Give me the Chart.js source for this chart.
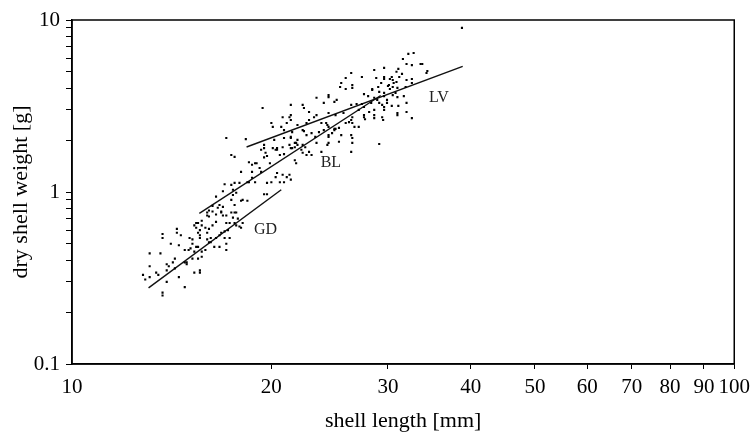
<!DOCTYPE html>
<html>
<head>
<meta charset="utf-8">
<script src="https://cdn.jsdelivr.net/npm/chart.js@4.4.1/dist/chart.umd.min.js"></script>
<style>
  html, body { margin: 0; padding: 0; background: #fff; }
  #wrap { width: 756px; height: 432px; }
</style>
</head>
<body>
<div id="wrap"><canvas id="shellChart" width="756" height="432"></canvas></div>
<script>
// shell length [mm] and dry shell weight [g], one entry per mussel
const shellLength = [
  12.8, 12.9, 13.1, 13.6, 13.7, 13.7, 13.1, 13.4, 13.5, 13.1,
  13.7, 13.7, 14.8, 13.9, 13.9, 14.3, 14.4, 14.4, 14.6, 14.1,
  14.5, 14.0, 14.3, 14.5, 14.8, 14.9, 14.9, 15.3, 15.6, 15.6,
  15.5, 15.7, 15.05, 13.9, 15.3, 15.4, 15.2, 15.5, 15.6, 15.5,
  15.7, 15.0, 15.2, 15.4, 15.3, 15.1, 15.2, 15.6, 14.8, 14.2,
  15.9, 15.7, 16.0, 16.0, 16.1, 16.3, 16.5, 16.8, 15.9, 16.1,
  16.3, 16.2, 16.5, 16.8, 17.0, 17.2, 17.3, 17.5, 17.6, 17.1,
  17.3, 17.7, 17.9, 18.0, 16.1, 16.4, 16.7, 15.7, 16.1, 16.3,
  16.6, 16.9, 16.8, 16.9, 17.1, 17.4, 17.6, 17.7, 17.8, 15.5,
  15.6, 16.5, 17.1, 17.6, 18.1, 16.0, 16.0, 16.2, 16.5, 16.7,
  17.0, 15.4, 17.1, 16.5, 17.0, 17.6, 18.5, 17.5, 17.7, 18.1,
  18.4, 19.5, 19.7, 16.7, 16.9, 17.4, 18.0, 17.4, 17.9, 18.7,
  18.9, 18.4, 17.5, 17.1, 18.3, 17.4, 17.6, 18.5, 18.9, 18.7,
  19.0, 19.2, 19.9, 18.0, 18.7, 19.3, 19.3, 19.5, 19.5, 19.7,
  20.1, 20.4, 20.8, 20.6, 20.9, 20.2, 20.9, 21.4, 21.8, 21.4,
  21.7, 21.9, 22.3, 22.2, 22.3, 22.6, 23.0, 21.7, 21.8, 20.3,
  20.4, 20.8, 21.1, 21.3, 21.4, 20.9, 20.6, 20.0, 19.7, 19.5,
  19.6, 20.3, 20.4, 20.1, 19.4, 20.0, 20.7, 20.9, 21.5, 22.3,
  21.4, 21.3, 21.7, 21.9, 21.5, 22.5, 22.8, 23.4, 24.3, 23.8,
  26.4, 22.4, 22.6, 23.0, 23.3, 23.6, 24.0, 24.4, 26.4, 25.3,
  24.4, 21.1, 21.3, 21.4, 21.9, 22.8, 22.6, 23.8, 24.2, 24.4,
  25.3, 25.9, 26.5, 23.2, 24.4, 25.0, 25.7, 21.4, 21.4, 22.3,
  22.4, 22.8, 23.4, 24.0, 24.4, 24.4, 24.9, 26.4, 26.9, 25.5,
  26.5, 26.5, 25.9, 25.4, 26.4, 25.9, 27.4, 20.8, 23.4, 24.3,
  24.9, 27.1, 27.6, 25.1, 27.4, 27.6, 28.6, 29.1, 28.9, 29.4,
  29.9, 30.4, 28.1, 28.6, 28.6, 28.6, 29.4, 29.6, 29.6, 29.9,
  31.0, 32.0, 32.6, 27.6, 27.7, 26.5, 26.4, 26.2, 27.1, 26.7,
  24.9, 25.0, 24.7, 25.5, 26.5, 24.4, 26.5, 29.1, 27.6, 28.4,
  29.3, 29.6, 30.0, 30.2, 30.8, 32.0, 29.1, 28.6, 29.6, 29.6,
  29.6, 30.2, 28.8, 30.6, 30.9, 32.0, 32.6, 31.5, 31.2, 32.2,
  32.0, 32.6, 32.8, 31.6, 33.6, 33.8, 34.4, 34.3, 30.4, 30.5,
  31.1, 30.1, 30.5, 31.0, 28.4, 31.0, 31.1, 31.0, 29.5, 38.8,
  32.6, 31.9, 31.7, 30.9, 30.5, 28.3, 28.0, 29.0, 29.6
];
const dryWeight = [
  0.33, 0.31, 0.44, 0.44, 0.57, 0.54, 0.37, 0.34, 0.33, 0.32,
  0.26, 0.25, 0.28, 0.30, 0.35, 0.41, 0.61, 0.58, 0.56, 0.50,
  0.49, 0.37, 0.36, 0.32, 0.39, 0.39, 0.38, 0.34, 0.35, 0.34,
  0.41, 0.42, 0.54, 0.38, 0.64, 0.66, 0.50, 0.58, 0.56, 0.48,
  0.45, 0.46, 0.41, 0.62, 0.45, 0.47, 0.53, 0.54, 0.46, 0.39,
  0.46, 0.64, 0.73, 0.76, 0.72, 0.77, 0.74, 0.77, 0.62, 0.61,
  0.64, 0.54, 0.54, 0.58, 0.59, 0.60, 0.66, 0.71, 0.76, 0.50,
  0.54, 0.64, 0.63, 0.62, 0.51, 0.48, 0.48, 0.68, 0.78, 0.83,
  0.81, 0.82, 0.76, 0.73, 0.73, 0.76, 0.84, 0.76, 0.70, 0.66,
  0.60, 0.67, 0.66, 0.66, 0.66, 0.58, 0.53, 0.51, 0.54, 0.56,
  0.54, 0.48, 0.46, 0.94, 1.11, 1.13, 1.14, 0.96, 0.99, 0.90,
  0.89, 0.97, 0.97, 0.84, 1.01, 0.90, 0.89, 1.10, 1.13, 1.21,
  1.14, 1.14, 1.03, 2.06, 2.03, 1.64, 1.60, 1.49, 1.47, 1.44,
  1.47, 1.38, 1.47, 1.31, 1.31, 1.31, 1.76, 1.88, 1.59, 1.62,
  1.80, 1.76, 1.82, 1.64, 1.66, 2.01, 2.06, 2.09, 1.93, 1.80,
  1.82, 1.88, 1.88, 1.76, 1.69, 1.64, 1.64, 1.53, 1.47, 1.22,
  1.29, 1.26, 1.22, 1.26, 1.18, 1.14, 1.14, 1.14, 1.13, 1.80,
  1.69, 1.76, 1.80, 2.39, 3.08, 2.52, 2.39, 2.29, 2.23, 2.29,
  2.06, 1.88, 1.93, 2.01, 1.80, 1.82, 1.71, 1.93, 1.88, 1.71,
  1.71, 2.26, 2.14, 2.20, 2.09, 2.23, 2.29, 2.14, 2.14, 1.96,
  1.93, 2.52, 2.72, 2.62, 2.45, 2.62, 2.52, 2.52, 2.52, 2.39,
  2.36, 2.52, 2.52, 2.72, 2.88, 2.80, 2.88, 3.21, 2.80, 3.21,
  3.08, 2.92, 3.53, 3.30, 3.66, 3.56, 3.34, 3.21, 3.25, 4.30,
  4.19, 4.03, 3.97, 4.08, 4.92, 4.60, 4.66, 2.72, 2.80, 2.45,
  2.29, 3.00, 2.80, 3.43, 3.25, 3.12, 3.53, 3.30, 3.43, 3.21,
  3.43, 3.17, 2.92, 3.00, 2.80, 2.69, 2.72, 3.12, 3.00, 3.30,
  2.88, 2.92, 2.69, 2.72, 2.65, 2.72, 2.62, 2.55, 2.39, 2.39,
  2.33, 2.33, 2.20, 2.14, 2.06, 2.09, 1.93, 1.90, 3.71, 3.97,
  4.30, 3.77, 4.13, 3.97, 3.77, 3.30, 3.82, 5.12, 5.27, 4.66,
  4.54, 4.54, 4.60, 4.30, 4.36, 4.48, 4.54, 4.86, 4.66, 6.35,
  5.55, 5.47, 6.43, 5.93, 5.55, 5.55, 5.05, 4.92, 4.66, 4.48,
  5.20, 4.19, 4.08, 4.03, 3.92, 3.56, 3.17, 2.80, 2.62, 9.0,
  4.30, 4.08, 3.61, 5.0, 3.66, 3.30, 3.61, 4.08, 3.61
];

// regression lines (start, end) per site
const gdLength = [13.05, 20.7];
const gdWeight = [0.277, 1.03];
const blLength = [15.57, 29.25];
const blWeight = [0.752, 3.64];
const lvLength = [18.35, 38.9];
const lvWeight = [1.827, 5.38];

// site labels next to the lines
const siteNames = ['GD', 'BL', 'LV'];
const siteLabelLength = [19.6, 24.6, 35.8];
const siteLabelWeight = [0.60, 1.47, 3.53];

const xTickValues = [10, 20, 30, 40, 50, 60, 70, 80, 90, 100];
const yTickValues = [0.1, 0.2, 0.3, 0.4, 0.5, 0.6, 0.7, 0.8, 0.9, 1, 2, 3, 4, 5, 6, 7, 8, 9, 10];
const yTickLabels = [0.1, 1, 10];

const serif = "'Liberation Serif', 'Times New Roman', serif";

function pairs(xs, ys) {
    return xs.map((x, i) => ({ x: x, y: ys[i] }));
}

function regLine(xs, ys) {
    return {
        data: pairs(xs, ys),
        showLine: true,
        borderColor: '#111',
        borderWidth: 1.4,
        pointRadius: 0,
        fill: false
    };
}

const frameAndLabels = {
    id: 'frameAndLabels',
    afterDraw(chart) {
        const { ctx, chartArea, scales } = chart;
        ctx.save();
        ctx.strokeStyle = '#000';
        ctx.lineWidth = 1.5;
        ctx.strokeRect(chartArea.left, chartArea.top,
            chartArea.right - chartArea.left, chartArea.bottom - chartArea.top);
        ctx.fillStyle = '#222';
        ctx.font = '16px ' + serif;
        ctx.textAlign = 'center';
        ctx.textBaseline = 'middle';
        siteNames.forEach((name, i) => {
            ctx.fillText(name, scales.x.getPixelForValue(siteLabelLength[i]),
                scales.y.getPixelForValue(siteLabelWeight[i]));
        });
        ctx.restore();
    }
};

const shellCtx = document.getElementById('shellChart').getContext('2d');
const shellChart = new Chart(shellCtx, {
    type: 'scatter',
    data: {
        datasets: [
            {
                data: pairs(shellLength, dryWeight),
                pointStyle: 'rect',
                pointRadius: 1.5,
                backgroundColor: '#000',
                borderWidth: 0
            },
            regLine(gdLength, gdWeight),
            regLine(blLength, blWeight),
            regLine(lvLength, lvWeight)
        ]
    },
    options: {
        responsive: false,
        devicePixelRatio: 1,
        animation: false,
        layout: { padding: { top: 20, right: 19, left: 0, bottom: 0 } },
        plugins: {
            legend: { display: false },
            tooltip: { enabled: false }
        },
        scales: {
            x: {
                type: 'logarithmic',
                min: 10,
                max: 100,
                afterFit(scale) { scale.height = 68; },
                afterBuildTicks(scale) { scale.ticks = xTickValues.map(v => ({ value: v })); },
                ticks: {
                    autoSkip: false,
                    maxRotation: 0,
                    color: '#000',
                    padding: 6,
                    font: { family: serif, size: 21 },
                    callback: v => String(v)
                },
                grid: {
                    drawOnChartArea: false,
                    tickLength: 5,
                    tickColor: c => (c.tick && c.tick.value === 10 ? 'rgba(0,0,0,0)' : '#000')
                },
                border: { color: '#000', width: 1.5 },
                title: {
                    display: true,
                    text: 'shell length [mm]',
                    color: '#000',
                    font: { family: serif, size: 22, lineHeight: 1 },
                    padding: { top: 0, bottom: 0 }
                }
            },
            y: {
                type: 'logarithmic',
                min: 0.1,
                max: 10,
                afterFit(scale) { scale.width = 72; },
                afterBuildTicks(scale) { scale.ticks = yTickValues.map(v => ({ value: v })); },
                ticks: {
                    autoSkip: false,
                    color: '#000',
                    padding: 6,
                    font: { family: serif, size: 21 },
                    callback: v => (yTickLabels.some(t => Math.abs(t - v) < 1e-9) ? String(v) : '')
                },
                grid: {
                    drawOnChartArea: false,
                    tickLength: 6,
                    tickColor: '#000'
                },
                border: { color: '#000', width: 1.5 },
                title: {
                    display: true,
                    text: 'dry shell weight [g]',
                    color: '#000',
                    font: { family: serif, size: 22 },
                    padding: { top: 8, bottom: 0 }
                }
            }
        }
    },
    plugins: [frameAndLabels]
});
</script>
</body>
</html>
